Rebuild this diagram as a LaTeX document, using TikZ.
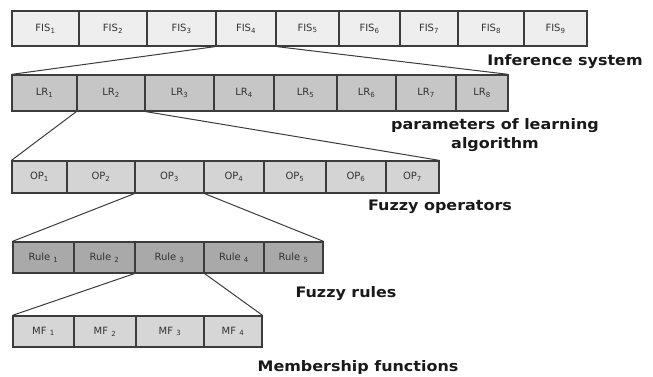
\documentclass[tikz,border=0pt]{standalone}
\usepackage{fontspec}
\setmainfont{DejaVu Sans}
\newfontfamily\labelfont[FakeStretch=1.1]{DejaVu Sans}

\definecolor{edgegrey}{HTML}{3C3C3C}
\definecolor{fisgrey}{HTML}{EEEEEE}
\definecolor{lrgrey}{HTML}{C6C6C6}
\definecolor{opgrey}{HTML}{D4D4D4}
\definecolor{rulegrey}{HTML}{A9A9A9}
\definecolor{mfgrey}{HTML}{D6D6D6}

\begin{document}
\begin{tikzpicture}[x=1pt,y=-1pt,
  cell/.style={draw=edgegrey, line width=1.2pt, rectangle, inner sep=0pt,
    font=\fontsize{10}{12}\selectfont, text=black!80},
  caption/.style={font=\labelfont\bfseries\fontsize{14.5}{19}\selectfont, text=black!90, align=center}]
\useasboundingbox (0,0) rectangle (653,377);

% inference systems
\foreach \i/\l/\r in {1/12/79, 2/79/147, 3/147/216, 4/216/276, 5/276/339, 6/339/400, 7/400/458, 8/458/524, 9/524/587}
  \node[cell, fill=fisgrey, minimum height=35pt, minimum width={(\r-\l)*1pt}] (fis\i) at ({(\l+\r)/2}, 28.5) {FIS\textsubscript{\i}};

% learning parameters
\foreach \i/\l/\r in {1/12/77, 2/77/145, 3/145/214, 4/214/274, 5/274/337, 6/337/396, 7/396/456, 8/456/508}
  \node[cell, fill=lrgrey, minimum height=36pt, minimum width={(\r-\l)*1pt}] (lr\i) at ({(\l+\r)/2}, 93) {LR\textsubscript{\i}};

% operators
\foreach \i/\l/\r in {1/12/67, 2/67/135, 3/135/204, 4/204/264, 5/264/326, 6/326/386, 7/386/439}
  \node[cell, fill=opgrey, minimum height=32pt, minimum width={(\r-\l)*1pt}] (op\i) at ({(\l+\r)/2}, 177) {OP\textsubscript{\i}};

% rules
\foreach \i/\l/\r in {1/13/74, 2/74/135, 3/135/204, 4/204/264, 5/264/323}
  \node[cell, fill=rulegrey, minimum height=31pt, minimum width={(\r-\l)*1pt}] (rule\i) at ({(\l+\r)/2}, 257.5) {Rule \textsubscript{\i}};

% membership functions
\foreach \i/\l/\r in {1/13/74, 2/74/136, 3/136/204, 4/204/262}
  \node[cell, fill=mfgrey, minimum height=31pt, minimum width={(\r-\l)*1pt}] (mf\i) at ({(\l+\r)/2}, 331.5) {MF \textsubscript{\i}};

% captions
\node[caption] (infcap) at (565,62) {Inference system};
\node[caption] (lrcap) at (495,135) {parameters of learning\\algorithm};
\node[caption] (opcap) at (440,207) {Fuzzy operators};
\node[caption] (rulecap) at (346,294) {Fuzzy rules};
\node[caption] (mfcap) at (358,367) {Membership functions};

% zoom lines
\draw[edgegrey, line width=1pt] (fis4.south west) -- (lr1.north west);
\draw[edgegrey, line width=1pt] (fis4.south east) -- (lr8.north east);
\draw[edgegrey, line width=1pt] (lr2.south west) -- (op1.north west);
\draw[edgegrey, line width=1pt] (lr2.south east) -- (op7.north east);
\draw[edgegrey, line width=1pt] (op3.south west) -- (rule1.north west);
\draw[edgegrey, line width=1pt] (op3.south east) -- (rule5.north east);
\draw[edgegrey, line width=1pt] (rule3.south west) -- (mf1.north west);
\draw[edgegrey, line width=1pt] (rule3.south east) -- (mf4.north east);
\end{tikzpicture}
\end{document}
